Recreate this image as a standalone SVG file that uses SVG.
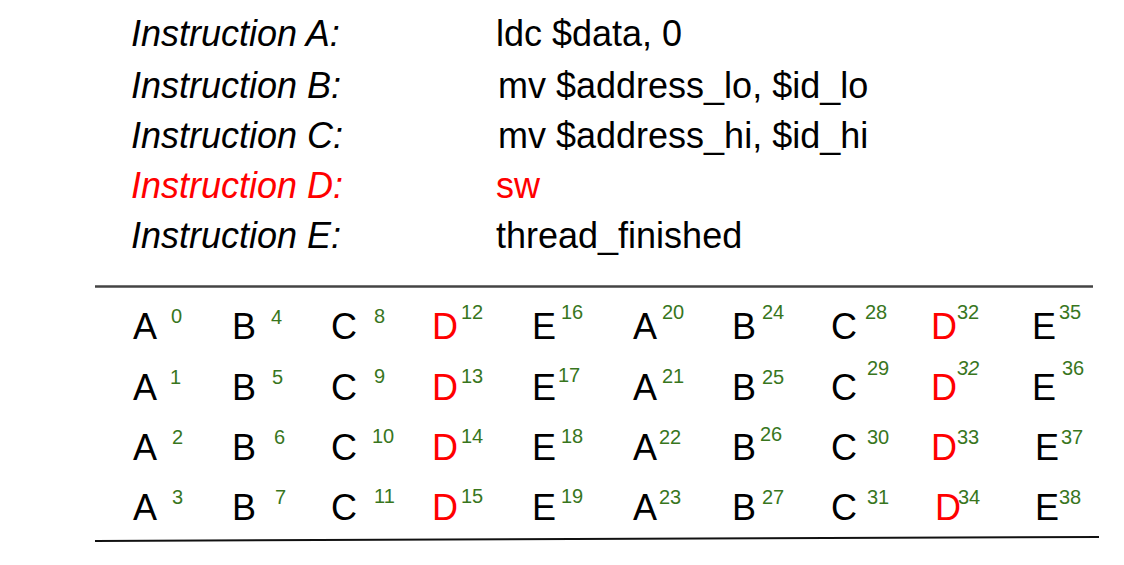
<svg xmlns="http://www.w3.org/2000/svg" width="1124" height="565" viewBox="0 0 1124 565">
<style>
text{font-family:"Liberation Sans",Arial,sans-serif}
.lbl{font-size:36px;font-style:italic;fill:#000}
.ins{font-size:36px;fill:#000}
.L{font-size:36px;fill:#000}
.s{font-size:20px;fill:#38761d}
text.red{fill:#ff0000}
</style>
<rect width="1124" height="565" fill="#fff"/>
<g id="instructions">
<text class="lbl" x="131" y="46">Instruction A:</text>
<text class="ins" x="496" y="46">ldc $data, 0</text>
<text class="lbl" x="131" y="98">Instruction B:</text>
<text class="ins" x="498" y="98">mv $address_lo, $id_lo</text>
<text class="lbl" x="131" y="148">Instruction C:</text>
<text class="ins" x="498" y="148">mv $address_hi, $id_hi</text>
<text class="lbl red" x="131" y="198">Instruction D:</text>
<text class="ins red" x="496" y="198">sw</text>
<text class="lbl" x="131" y="248">Instruction E:</text>
<text class="ins" x="496" y="248">thread_finished</text>
</g>
<g id="rules">
<line x1="95" y1="286.5" x2="1093" y2="286.5" stroke="#444" stroke-width="2.5"/>
<line x1="95" y1="541" x2="1099" y2="537" stroke="#111" stroke-width="2"/>
</g>
<g id="grid">
<g id="row1">
<text class="L" x="133" y="339">A</text><text class="s" x="171" y="323">0</text>
<text class="L" x="232" y="339">B</text><text class="s" x="271" y="324">4</text>
<text class="L" x="331" y="339">C</text><text class="s" x="374" y="323">8</text>
<text class="L red" x="432" y="339">D</text><text class="s" x="461" y="319">12</text>
<text class="L" x="532" y="339">E</text><text class="s" x="561" y="319">16</text>
<text class="L" x="633" y="339">A</text><text class="s" x="662" y="319">20</text>
<text class="L" x="732" y="339">B</text><text class="s" x="762" y="319">24</text>
<text class="L" x="831" y="339">C</text><text class="s" x="865" y="319">28</text>
<text class="L red" x="931" y="339">D</text><text class="s" x="957" y="319">32</text>
<text class="L" x="1032" y="339">E</text><text class="s" x="1059" y="319">35</text>
</g>
<g id="row2">
<text class="L" x="133" y="400">A</text><text class="s" x="170" y="384">1</text>
<text class="L" x="232" y="400">B</text><text class="s" x="272" y="384">5</text>
<text class="L" x="331" y="400">C</text><text class="s" x="374" y="383">9</text>
<text class="L red" x="432" y="400">D</text><text class="s" x="461" y="383">13</text>
<text class="L" x="532" y="400">E</text><text class="s" x="558" y="382">17</text>
<text class="L" x="633" y="400">A</text><text class="s" x="662" y="383">21</text>
<text class="L" x="732" y="400">B</text><text class="s" x="762" y="384">25</text>
<text class="L" x="831" y="400">C</text><text class="s" x="867" y="375">29</text>
<text class="L red" x="931" y="400">D</text><text class="s" x="957" y="375" font-style="italic">32</text>
<text class="L" x="1032" y="400">E</text><text class="s" x="1062" y="375">36</text>
</g>
<g id="row3">
<text class="L" x="133" y="460">A</text><text class="s" x="172" y="444">2</text>
<text class="L" x="232" y="460">B</text><text class="s" x="274" y="444">6</text>
<text class="L" x="331" y="460">C</text><text class="s" x="372" y="443">10</text>
<text class="L red" x="432" y="460">D</text><text class="s" x="461" y="443">14</text>
<text class="L" x="532" y="460">E</text><text class="s" x="561" y="443">18</text>
<text class="L" x="633" y="460">A</text><text class="s" x="659" y="444">22</text>
<text class="L" x="732" y="460">B</text><text class="s" x="760" y="441">26</text>
<text class="L" x="831" y="460">C</text><text class="s" x="867" y="444">30</text>
<text class="L red" x="931" y="460">D</text><text class="s" x="957" y="444">33</text>
<text class="L" x="1035" y="460">E</text><text class="s" x="1061" y="444">37</text>
</g>
<g id="row4">
<text class="L" x="133" y="520">A</text><text class="s" x="172" y="504">3</text>
<text class="L" x="232" y="520">B</text><text class="s" x="275" y="504">7</text>
<text class="L" x="331" y="520">C</text><text class="s" x="374" y="503">11</text>
<text class="L red" x="432" y="520">D</text><text class="s" x="461" y="503">15</text>
<text class="L" x="532" y="520">E</text><text class="s" x="561" y="503">19</text>
<text class="L" x="633" y="520">A</text><text class="s" x="659" y="504">23</text>
<text class="L" x="732" y="520">B</text><text class="s" x="762" y="504">27</text>
<text class="L" x="831" y="520">C</text><text class="s" x="867" y="504">31</text>
<text class="L red" x="935" y="520">D</text><text class="s" x="958" y="504">34</text>
<text class="L" x="1035" y="520">E</text><text class="s" x="1059" y="504">38</text>
</g>
</g>
</svg>
